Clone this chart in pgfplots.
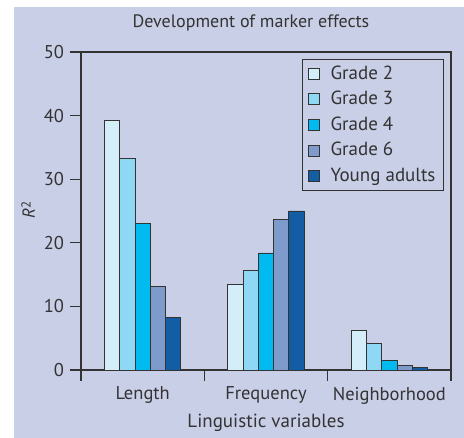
\documentclass[border=0pt]{standalone}
\usepackage{fontspec}
\setmainfont{PT Sans}
\usepackage{pgfplots}
\pgfplotsset{compat=1.18}

\definecolor{bgc}{HTML}{C9CFE7}
\definecolor{ink}{HTML}{333333}
\definecolor{gtwo}{HTML}{D3EEF9}
\definecolor{gthree}{HTML}{8ED8F6}
\definecolor{gfour}{HTML}{00BAF0}
\definecolor{gsix}{HTML}{7F9BCC}
\definecolor{adult}{HTML}{135DA5}

\begin{document}
\fontsize{17.5pt}{20pt}\selectfont
\begin{tikzpicture}
\useasboundingbox (-81pt,-68pt) rectangle (383pt,370pt);
\fill[bgc] (-67pt,-68pt) rectangle (383pt,363pt);
\node[anchor=base, text=ink, font=\fontsize{18pt}{20pt}\selectfont] at (170pt,342pt) {Development of marker effects};
\begin{axis}[
    at={(0pt,0pt)}, anchor=south west,
    scale only axis, width=370pt, height=318pt,
    ybar=0pt, bar width=15.3pt,
    xmin=0, xmax=3, ymin=0, ymax=50,
    xtick={0,1,2,3},
    xticklabels={Length,Frequency,Neighborhood},
    x tick label as interval,
    ytick={0,10,...,50},
    tick align=outside, tick pos=left,
    major tick length=11pt,
    tick style={draw=ink, line width=1.1pt},
    axis line style={draw=ink, line width=1.2pt},
    ticklabel style={text=ink, font=\fontsize{18.5pt}{20pt}\selectfont},
    /pgf/number format/assume math mode=true,
    xlabel={Linguistic variables},
    xlabel style={text=ink, font=\fontsize{19pt}{20pt}\selectfont,
        at={(axis description cs:0.5,0)}, anchor=base, yshift=-58pt},
    ylabel={\textit{R}\raisebox{0.25em}{\fontsize{13pt}{14pt}\selectfont 2}},
    ylabel style={text=ink, at={(axis description cs:-0.143,0.503)}, anchor=center},
    legend style={at={(1,1)}, anchor=north east, xshift=-7pt, yshift=-7pt,
        draw=ink, fill=bgc, line width=1pt, text=ink, row sep=5.5pt,
        inner xsep=6pt, inner ysep=4pt,
        font=\fontsize{19pt}{20pt}\selectfont},
    legend cell align=left,
    legend image code/.code={\draw[#1, line width=0.8pt] (0pt,-5.5pt) rectangle (11pt,5.5pt);
        \path[draw=none, fill=none] (0pt,0pt) -- (20pt,0pt);},
    every axis plot/.append style={draw=ink, line width=0.9pt},
]
\addplot[fill=gtwo] coordinates {(0.5,39.2) (1.5,13.5) (2.5,6.2)};
\addlegendentry{Grade 2}
\addplot[fill=gthree] coordinates {(0.5,33.3) (1.5,15.7) (2.5,4.1)};
\addlegendentry{Grade 3}
\addplot[fill=gfour] coordinates {(0.5,23.0) (1.5,18.4) (2.5,1.5)};
\addlegendentry{Grade 4}
\addplot[fill=gsix] coordinates {(0.5,13.1) (1.5,23.7) (2.5,0.7)};
\addlegendentry{Grade 6}
\addplot[fill=adult] coordinates {(0.5,8.2) (1.5,25.0) (2.5,0.35)};
\addlegendentry{Young adults}
\end{axis}
\end{tikzpicture}
\end{document}
